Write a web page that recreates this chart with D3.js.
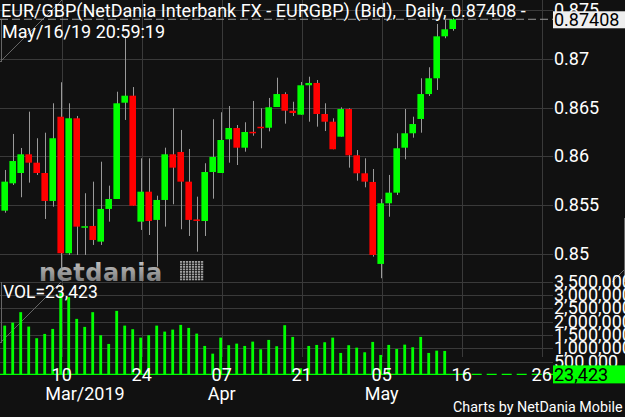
<!DOCTYPE html>
<html>
<head>
<meta charset="utf-8">
<script src="https://cdn.jsdelivr.net/npm/d3@7"></script>
<style>
  html, body { margin: 0; padding: 0; background: #111111; }
  svg { display: block; font-family: Roboto, sans-serif; }
</style>
</head>
<body>
<div id="chart"></div>
<script>
// Daily EUR/GBP candles, one per trading day (Feb 27 .. May 17 2019)
const opens = [0.85442, 0.85723, 0.85829, 0.86021, 0.85935, 0.85829, 0.85542, 0.86407, 0.85005, 0.86391,
  0.85272, 0.85285, 0.85124, 0.8546, 0.85562, 0.86551, 0.86623, 0.85329, 0.85637, 0.85347,
  0.85552, 0.86021, 0.86045, 0.8574, 0.85352, 0.85336, 0.85839, 0.85829, 0.86175, 0.86291,
  0.86089, 0.86252, 0.86304, 0.86294, 0.86507, 0.8664, 0.86469, 0.86428, 0.8673, 0.86754,
  0.86435, 0.86356, 0.86202, 0.86486, 0.86011, 0.85826, 0.85737, 0.84895, 0.85518, 0.85627,
  0.86089, 0.86237, 0.86384, 0.8664, 0.86802, 0.87233, 0.87308];
const highs = [0.8586, 0.8623, 0.86086, 0.86459, 0.86186, 0.86243, 0.86545, 0.86761, 0.86545, 0.86415,
  0.85621, 0.8574, 0.85945, 0.85699, 0.86664, 0.87226, 0.86712, 0.8598, 0.8598, 0.85596,
  0.86089, 0.86494, 0.86271, 0.86076, 0.85586, 0.85929, 0.86381, 0.86453, 0.86517, 0.86322,
  0.8635, 0.86569, 0.86494, 0.866, 0.86808, 0.86658, 0.86561, 0.86764, 0.86818, 0.86784,
  0.86545, 0.86391, 0.86504, 0.86494, 0.86065, 0.8598, 0.8587, 0.85562, 0.85809, 0.86237,
  0.86486, 0.86407, 0.86802, 0.86915, 0.8736, 0.874, 0.8742];
const lows = [0.85421, 0.85706, 0.8558, 0.8573, 0.85809, 0.85357, 0.85483, 0.84799, 0.84987, 0.84987,
  0.84987, 0.8509, 0.8509, 0.85329, 0.85562, 0.86374, 0.85493, 0.85244, 0.85192, 0.84867,
  0.85278, 0.85508, 0.85251, 0.85182, 0.85021, 0.85182, 0.85565, 0.85829, 0.85935, 0.85911,
  0.86048, 0.86212, 0.86083, 0.86257, 0.86507, 0.86336, 0.86415, 0.86428, 0.86356, 0.86305,
  0.8626, 0.86073, 0.86202, 0.85884, 0.8575, 0.85682, 0.8497, 0.84748, 0.8538, 0.85603,
  0.8597, 0.86192, 0.86243, 0.8662, 0.86682, 0.87213, 0.8729];
const closes = [0.8574, 0.85952, 0.86021, 0.85935, 0.85829, 0.85542, 0.86186, 0.85005, 0.86391, 0.85278,
  0.85282, 0.85141, 0.8546, 0.85562, 0.86545, 0.86623, 0.85493, 0.85637, 0.85336, 0.85552,
  0.86021, 0.85884, 0.8574, 0.85347, 0.85342, 0.85839, 0.85994, 0.86168, 0.86291, 0.86089,
  0.8625, 0.86242, 0.86293, 0.86504, 0.8664, 0.86469, 0.86445, 0.8673, 0.86754, 0.86435,
  0.86356, 0.86073, 0.86486, 0.86011, 0.85826, 0.8574, 0.84987, 0.85518, 0.85627, 0.86083,
  0.86237, 0.86332, 0.8664, 0.86802, 0.87233, 0.87305, 0.87408];
const volumes = [1853000, 1966000, 2357000, 1816000, 1380000, 1541000, 1729000, 3071000, 2921000, 2105000,
  1805000, 2357000, 1492000, 1165000, 2406000, 1853000, 1718000, 1402000, 1492000, 1853000,
  1628000, 1703000, 1880000, 1767000, 1553000, 1090000, 801000, 1402000, 1117000, 1177000,
  1090000, 1252000, 966000, 1316000, 1079000, 1868000, 1429000, 252000, 1090000, 1128000,
  1229000, 1402000, 827000, 1117000, 1026000, 853000, 1241000, 752000, 1128000, 977000,
  1139000, 1041000, 1429000, 827000, 914000, 902000, 23423];

// axis ticks (bar index positions, future days included)
const dayTickIndex = [7.125, 17.125, 27.125, 37.125, 47.125, 57.125, 67.125];
const dayTickLabels = ['10', '24', '07', '21', '05', '16', '26'];
const monthLabels = ['Mar/2019', '', 'Apr', '', 'May', '', ''];
const priceTicks = [0.85, 0.855, 0.86, 0.865, 0.87, 0.875];
const volumeTicks = [500000, 1000000, 1500000, 2000000, 2500000, 3000000, 3500000];

const lastPrice = 0.87408;
const lastVolume = 23423;
const titleText = 'EUR/GBP(NetDania Interbank FX - EURGBP) (Bid),  Daily, 0.87408 -';
const timeText = 'May/16/19 20:59:19';

const width = 625, height = 417;
const plotRight = 553;
const green = '#00ff00', red = '#ff0000', gridColor = '#3a3a3a';

const svg = d3.select('#chart').append('svg')
  .attr('width', width)
  .attr('height', height);

svg.append('rect').attr('width', width).attr('height', height).attr('fill', '#111111');

const defs = svg.append('defs');
const grad = defs.append('linearGradient').attr('id', 'logoGrad')
  .attr('x1', 0).attr('y1', 0).attr('x2', 0).attr('y2', 1);
grad.append('stop').attr('offset', '0%').attr('stop-color', '#c8c8c8');
grad.append('stop').attr('offset', '100%').attr('stop-color', '#6a6a6a');

// scales
const x = d3.scaleLinear().domain([0, 56]).range([4.7, 452.7]);
const y = d3.scaleLinear().domain([0.85, 0.87]).range([253.7, 59]);
const yVol = d3.scaleLinear().domain([0, 3500000]).range([375, 281.7]);

// grid
svg.append('g').selectAll('line')
  .data(priceTicks)
  .enter().append('line')
  .attr('x1', 0).attr('x2', plotRight)
  .attr('y1', d => Math.round(y(d)) + 0.5).attr('y2', d => Math.round(y(d)) + 0.5)
  .attr('stroke', gridColor);

svg.append('g').selectAll('line')
  .data(volumeTicks)
  .enter().append('line')
  .attr('x1', 0).attr('x2', plotRight)
  .attr('y1', d => Math.round(yVol(d)) + 0.5).attr('y2', d => Math.round(yVol(d)) + 0.5)
  .attr('stroke', gridColor);

svg.append('g').selectAll('line')
  .data(dayTickIndex)
  .enter().append('line')
  .attr('x1', d => Math.round(x(d)) + 0.5).attr('x2', d => Math.round(x(d)) + 0.5)
  .attr('y1', 0).attr('y2', 357)
  .attr('stroke', gridColor);

// panel corner markers
const marks = svg.append('g').attr('stroke', '#666').attr('stroke-width', 1).attr('fill', 'none');
marks.append('path').attr('d', 'M1.5,20 V62 M0,62 L62,0');
marks.append('path').attr('d', 'M1.5,282 V343 M0,343 L61,282');
marks.append('path').attr('d', 'M624.5,218 V282 M612,282 L625,269');

// netdania watermark
const logo = svg.append('g').attr('transform', 'translate(39,281)');
logo.append('text')
  .attr('x', 0).attr('y', 0)
  .attr('font-family', 'DejaVu Sans')
  .attr('font-weight', 'bold')
  .attr('font-size', 24)
  .attr('letter-spacing', 0.5)
  .attr('fill', 'url(#logoGrad)')
  .text('netdania');
logo.selectAll('rect.cell')
  .data(d3.range(64))
  .enter().append('rect')
  .attr('class', 'cell')
  .attr('x', d => 141 + (d % 8) * 3)
  .attr('y', d => -20 + Math.floor(d / 8) * 2.5)
  .attr('width', 2.2).attr('height', 1.8)
  .attr('fill', '#a0a0a0');

// volume bars
const volBaseY = yVol(lastVolume);
svg.append('line')
  .attr('x1', 0).attr('x2', x(56) + 4)
  .attr('y1', volBaseY).attr('y2', volBaseY)
  .attr('stroke', green).attr('stroke-width', 1.3);
svg.append('line')
  .attr('x1', x(56) + 4).attr('x2', plotRight)
  .attr('y1', volBaseY).attr('y2', volBaseY)
  .attr('stroke', green).attr('stroke-width', 1.3)
  .attr('stroke-dasharray', '10,5');

svg.append('g').selectAll('rect')
  .data(volumes)
  .enter().append('rect')
  .attr('x', (d, i) => x(i) - 1.4)
  .attr('width', 2.8)
  .attr('y', d => yVol(d))
  .attr('height', d => yVol(0) - yVol(d))
  .attr('fill', green);

// candles
const candles = svg.append('g').selectAll('g')
  .data(opens.map((o, i) => ({ i, o, h: highs[i], l: lows[i], c: closes[i] })))
  .enter().append('g');

candles.append('line')
  .attr('x1', d => Math.round(x(d.i)) + 0.5).attr('x2', d => Math.round(x(d.i)) + 0.5)
  .attr('y1', d => y(d.h)).attr('y2', d => y(d.l))
  .attr('stroke', '#9a9a9a').attr('stroke-width', 1);

candles.append('rect')
  .attr('x', d => x(d.i) - 3.3)
  .attr('width', 6.6)
  .attr('y', d => y(Math.max(d.o, d.c)))
  .attr('height', d => Math.max(1.5, Math.abs(y(d.o) - y(d.c))))
  .attr('fill', d => d.c >= d.o ? green : red);

// last price line
svg.append('line')
  .attr('x1', 0).attr('x2', plotRight)
  .attr('y1', y(lastPrice)).attr('y2', y(lastPrice))
  .attr('stroke', '#9a9a9a').attr('stroke-dasharray', '8,4');

// price axis labels
svg.append('g').selectAll('text')
  .data(priceTicks)
  .enter().append('text')
  .attr('x', 554).attr('y', d => y(d) + 6)
  .attr('font-size', 18).attr('fill', '#ffffff')
  .text(d => d3.format('')(+d.toFixed(3)));

// volume axis labels
svg.append('g').selectAll('text')
  .data(volumeTicks)
  .enter().append('text')
  .attr('x', 554).attr('y', d => yVol(d) + 6)
  .attr('font-size', 18).attr('fill', '#ffffff')
  .text(d => d3.format(',')(d));

// value boxes
svg.append('rect')
  .attr('x', 553).attr('y', y(lastPrice) - 8).attr('width', 72).attr('height', 17)
  .attr('fill', '#eeeeee');
svg.append('text')
  .attr('x', 554).attr('y', y(lastPrice) + 7)
  .attr('font-size', 18).attr('fill', '#000000')
  .text(lastPrice.toFixed(5));

svg.append('rect')
  .attr('x', 553).attr('y', volBaseY - 9).attr('width', 72).attr('height', 18)
  .attr('fill', green);
svg.append('text')
  .attr('x', 554).attr('y', volBaseY + 6.5)
  .attr('font-size', 18).attr('fill', '#000000')
  .text(d3.format(',')(lastVolume));

// date axis
svg.append('g').selectAll('text')
  .data(dayTickIndex)
  .enter().append('text')
  .attr('x', d => x(d)).attr('y', 381)
  .attr('text-anchor', 'middle')
  .attr('font-size', 18).attr('fill', '#ffffff')
  .text((d, i) => dayTickLabels[i]);

svg.append('g').selectAll('text')
  .data(dayTickIndex)
  .enter().append('text')
  .attr('x', (d, i) => monthLabels[i].includes('/') ? x(d) - 16.5 : x(d))
  .attr('y', 400)
  .attr('text-anchor', (d, i) => monthLabels[i].includes('/') ? 'start' : 'middle')
  .attr('font-size', 18).attr('fill', '#ffffff')
  .text((d, i) => monthLabels[i]);

// titles
svg.append('text')
  .attr('x', 1).attr('y', 16.5)
  .attr('font-size', 18).attr('fill', '#ffffff')
  .attr('xml:space', 'preserve')
  .style('white-space', 'pre')
  .text(titleText);
svg.append('text')
  .attr('x', 2).attr('y', 38)
  .attr('font-size', 18).attr('fill', '#ffffff')
  .text(timeText);

svg.append('text')
  .attr('x', 3).attr('y', 298)
  .attr('font-size', 17.5).attr('fill', '#ffffff')
  .text('VOL=' + d3.format(',')(lastVolume));

svg.append('text')
  .attr('x', 453).attr('y', 412)
  .attr('font-size', 14.3).attr('fill', '#ffffff')
  .text('Charts by NetDania Mobile');
</script>
</body>
</html>
